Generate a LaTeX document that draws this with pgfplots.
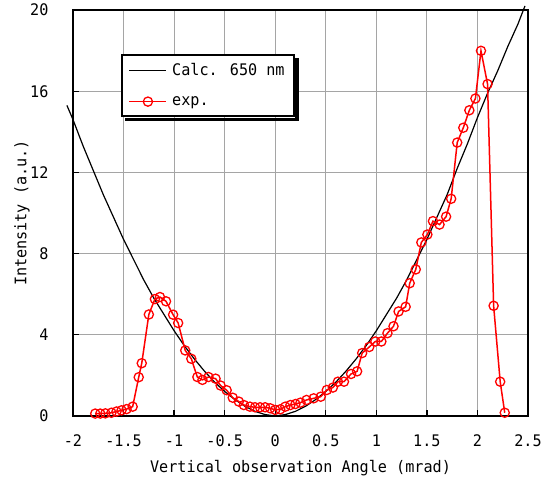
\documentclass[border=0pt]{standalone}
\usepackage{fontspec}
\usepackage{pgfplots}
\pgfplotsset{compat=1.18}
\setmainfont{DejaVu Sans Mono}[FakeStretch=0.95]
\newcommand{\fsz}{\fontsize{16}{18}\selectfont}
\definecolor{gridgray}{RGB}{165,165,165}

\begin{document}
\begin{tikzpicture}
\useasboundingbox (-73bp,-65bp) rectangle (472bp,416bp);
\begin{axis}[
    at={(0,0)}, anchor=south west,
    scale only axis, width=455bp, height=406bp,
    xmin=-2, xmax=2.5, ymin=0, ymax=20,
    xtick={-2,-1.5,-1,-0.5,0,0.5,1,1.5,2,2.5},
    xticklabels={-2,-1.5,-1,-0.5,0,0.5,1,1.5,2,2.5},
    ytick={0,4,8,12,16,20},
    yticklabels={0,4,8,12,16,20},
    tick align=inside, xtick pos=bottom, ytick pos=left,
    major tick length=6bp,
    tick style={black, line width=1.3bp},
    grid=major, grid style={gridgray, line width=1.2bp},
    axis line style={line width=2bp},
    ticklabel style={font=\fsz},
    xticklabel style={yshift=-15bp},
    yticklabel style={xshift=-21bp},
    xlabel={Vertical observation Angle (mrad)},
    ylabel={Intensity (a.u.)},
    xlabel style={at={(axis description cs:0.5,-0.128)}, anchor=center, font=\fsz},
    ylabel style={at={(axis description cs:-0.112,0.5)}, anchor=center, font=\fsz},
    clip=false,
    legend style={name=leg, font=\fsz, at={(rel axis cs:0.105,0.892)}, anchor=north west,
        draw=black, line width=1.8bp, fill=white,
        inner xsep=7bp, inner ysep=7bp, row sep=15bp,
        /tikz/every odd column/.append style={column sep=3bp}},
    legend cell align=left,
    legend image code/.code={
        \draw[mark repeat=2, mark phase=2, #1] plot coordinates {(0bp,0bp) (18.5bp,0bp) (37bp,0bp)};
    },
]
% calculated curve, 650 nm
\addplot[black, line width=1.2bp] coordinates {
    (-2.06,15.3) (-2.0,14.6) (-1.9,13.3) (-1.8,12.1) (-1.7,10.9) (-1.6,9.8)
    (-1.5,8.7) (-1.4,7.7) (-1.3,6.7) (-1.2,5.8) (-1.1,5.0) (-1.0,4.2)
    (-0.9,3.47) (-0.8,2.81) (-0.7,2.21) (-0.6,1.67) (-0.5,1.21) (-0.4,0.81)
    (-0.3,0.48) (-0.2,0.23) (-0.1,0.07) (0,0) (0.1,0.07) (0.2,0.23)
    (0.3,0.48) (0.4,0.81) (0.5,1.21) (0.6,1.67) (0.7,2.21) (0.8,2.81)
    (0.9,3.47) (1.0,4.2) (1.1,5.0) (1.2,5.8) (1.3,6.7) (1.4,7.7)
    (1.5,8.7) (1.6,9.8) (1.7,10.9) (1.8,12.2) (1.9,13.4) (2.0,14.7)
    (2.1,15.9) (2.2,17.0) (2.3,18.2) (2.4,19.3) (2.47,20.2)
};
\addlegendentry{Calc. 650 nm}
% measured
\addplot[red, line width=1.5bp, mark=o, mark size=4.6bp,
    mark options={solid, line width=1.3bp, fill=none}] coordinates {
    (-1.78,0.12) (-1.73,0.12) (-1.68,0.13) (-1.62,0.16) (-1.57,0.22)
    (-1.52,0.28) (-1.47,0.34) (-1.41,0.46) (-1.35,1.91) (-1.32,2.6)
    (-1.25,5.0) (-1.19,5.76) (-1.14,5.86) (-1.08,5.65) (-1.01,4.99)
    (-0.96,4.58) (-0.89,3.23) (-0.83,2.82) (-0.77,1.92) (-0.72,1.78)
    (-0.66,1.92) (-0.59,1.84) (-0.54,1.5) (-0.48,1.27) (-0.42,0.9)
    (-0.36,0.71) (-0.31,0.54) (-0.25,0.46) (-0.20,0.43) (-0.15,0.43)
    (-0.10,0.43) (-0.05,0.38) (0.00,0.30) (0.05,0.33) (0.10,0.46)
    (0.15,0.54) (0.20,0.59) (0.25,0.66) (0.31,0.79) (0.38,0.87)
    (0.45,0.95) (0.51,1.28) (0.57,1.40) (0.62,1.69) (0.68,1.69)
    (0.75,2.07) (0.81,2.2) (0.86,3.1) (0.93,3.4) (0.99,3.67)
    (1.05,3.67) (1.11,4.08) (1.17,4.42) (1.22,5.15) (1.29,5.38)
    (1.33,6.54) (1.39,7.22) (1.445,8.55) (1.505,8.94) (1.56,9.6)
    (1.625,9.43) (1.69,9.82) (1.74,10.7) (1.80,13.47) (1.86,14.2)
    (1.92,15.06) (1.98,15.64) (2.035,17.99) (2.10,16.35) (2.16,5.43)
    (2.225,1.69) (2.27,0.16)
};
\addlegendentry{exp.}
\end{axis}
% legend shadow
\fill[black] ([shift={(0.9bp,-4bp)}]leg.north east) rectangle ([shift={(4.5bp,-4.5bp)}]leg.south east);
\fill[black] ([shift={(4bp,-0.9bp)}]leg.south west) rectangle ([shift={(4.5bp,-4.5bp)}]leg.south east);
\end{tikzpicture}
\end{document}
